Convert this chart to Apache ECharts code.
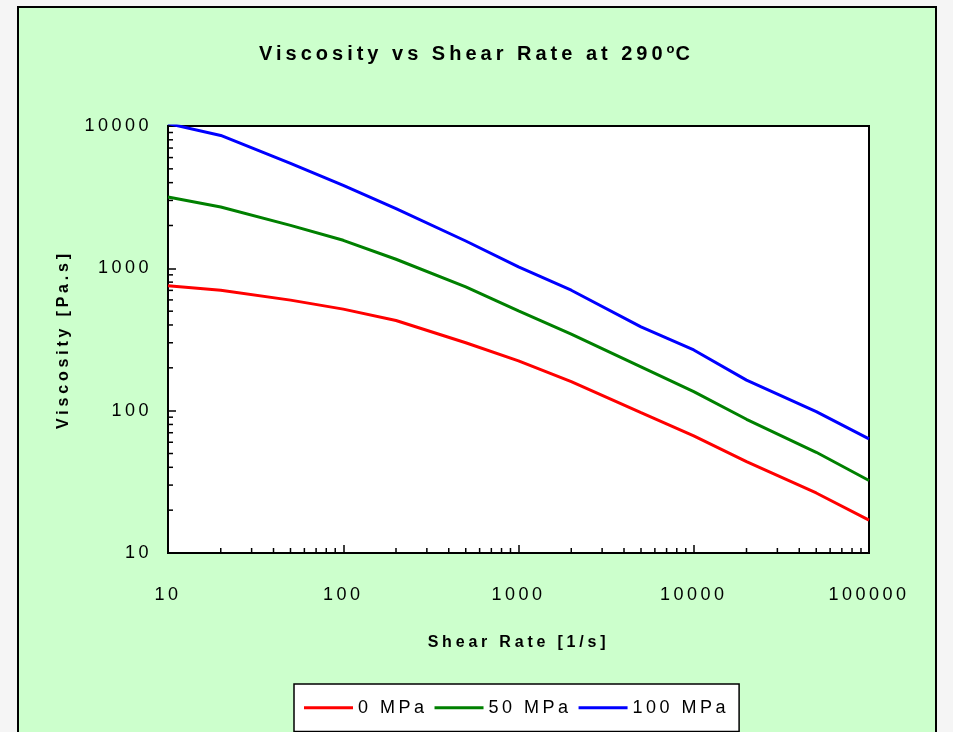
<!DOCTYPE html>
<html><head><meta charset="utf-8">
<script src="https://cdn.jsdelivr.net/npm/echarts@6/dist/echarts.min.js"></script>
<style>
html,body{margin:0;padding:0;background:#f5f5f5;overflow:hidden;}
#panel{position:absolute;left:17px;top:6px;width:916px;height:760px;background:#ccffcc;border:2px solid #000;}
#c{position:absolute;left:0;top:0;width:953px;height:732px;}
</style>
</head><body><div id="panel"></div><div id="c"></div>
<script>
// Spaced-out lettering like the original (weight+size -> letter spacing in px)
(function(){
  const proto = CanvasRenderingContext2D.prototype;
  const d = Object.getOwnPropertyDescriptor(proto,'font');
  if (!d || !('letterSpacing' in proto)) return;
  const LS = {'b20':4,'b16':3.8,'18':3.5,'b13':1};
  Object.defineProperty(proto,'font',{configurable:true,enumerable:d.enumerable,
    get(){return d.get.call(this);},
    set(v){d.set.call(this,v);const m=/(\d+(?:\.\d+)?)px/.exec(v);
      const key=(/bold|[6-9]00/.test(v)?'b':'')+(m?m[1]:'');const s=LS[key];this.letterSpacing=(s||0)+'px';}
  });
})();

const shearRate = [10,20,50,100,200,500,1000,2000,5000,10000,20000,50000,100000];
const visc0   = [753,702,598,517,430,300,224,160,97,66.5,43.9,26.4,17.0];
const visc50  = [3170,2700,2005,1574,1158,741,503,345,203,136,87,51,32.3];
const visc100 = [10400,8580,5460,3825,2625,1556,1023,702,388,267,164,98.4,63.3];
const seriesNames = ['0 MPa','50 MPa','100 MPa'];
const seriesColors = ['#ff0000','#008000','#0000ff'];
const xMin = 10, xMax = 100000, yMin = 10, yMax = 10000;

function minorVals(lo, hi){const out=[];for(let d=lo;d<hi;d*=10)for(let k=2;k<=9;k++)out.push(d*k);return out;}
const xMinor = minorVals(xMin,xMax).map(v=>[v,yMin]);
const yMinor = minorVals(yMin,yMax).map(v=>[xMin,v]);

const FONT = 'Liberation Sans, Arial, sans-serif';
const chart = echarts.init(document.getElementById('c'), null, {renderer:'canvas'});
const lineSeries = [visc0,visc50,visc100].map((vals,i)=>({
  name: seriesNames[i], type:'line', showSymbol:false, symbol:'none', clip:true,
  lineStyle:{color:seriesColors[i], width:3}, itemStyle:{color:seriesColors[i]},
  data: shearRate.map((x,j)=>[x, vals[j]]), z:3
}));
chart.setOption({
  animation:false,
  backgroundColor:'transparent',
  title:{
    text:'Viscosity vs Shear Rate at 290{sup|o}C',
    left:'center', top:42, padding:0,
    textStyle:{fontFamily:FONT,fontSize:20,fontWeight:'bold',color:'#000',
      rich:{sup:{fontFamily:FONT,fontSize:13,fontWeight:'bold',color:'#000',verticalAlign:'top',padding:[0,0,8,0]}}}
  },
  grid:{left:168,top:126,right:84,bottom:179,show:true,backgroundColor:'#fff',borderColor:'#000',borderWidth:2},
  legend:{
    data:seriesNames, left:294, top:684, orient:'horizontal',
    padding:[13,10,13,10], itemGap:7, itemWidth:49, itemHeight:3, icon:'rect',
    backgroundColor:'#fff', borderColor:'#000', borderWidth:1.5, borderRadius:0,
    textStyle:{fontFamily:FONT,fontSize:18,color:'#000'}
  },
  xAxis:{
    type:'log', logBase:10, min:xMin, max:xMax,
    name:'Shear Rate [1/s]', nameLocation:'middle', nameGap:80,
    nameTextStyle:{fontFamily:FONT,fontSize:16,fontWeight:'bold',color:'#000'},
    axisLine:{show:true,lineStyle:{color:'#000',width:2}},
    axisTick:{show:true,inside:true,length:8,lineStyle:{color:'#000',width:1.5}},
    axisLabel:{fontFamily:FONT,fontSize:18,color:'#000',margin:31,formatter:v=>String(Math.round(v))},
    splitLine:{show:false}, minorTick:{show:false}
  },
  yAxis:{
    type:'log', logBase:10, min:yMin, max:yMax,
    name:'Viscosity [Pa.s]', nameLocation:'middle', nameGap:90, nameRotate:90,
    nameTextStyle:{fontFamily:FONT,fontSize:16,fontWeight:'bold',color:'#000'},
    axisLine:{show:true,lineStyle:{color:'#000',width:2}},
    axisTick:{show:true,inside:true,length:8,lineStyle:{color:'#000',width:1.5}},
    axisLabel:{fontFamily:FONT,fontSize:18,color:'#000',margin:16,formatter:v=>String(Math.round(v))},
    splitLine:{show:false}, minorTick:{show:false}
  },
  series:[
    {type:'custom', silent:true, z:2, data:xMinor, clip:false,
     renderItem:(params,api)=>{const p=api.coord([api.value(0),api.value(1)]);
       return {type:'line',shape:{x1:p[0],y1:p[1],x2:p[0],y2:p[1]-5},style:{stroke:'#000',lineWidth:1.5}};}},
    {type:'custom', silent:true, z:2, data:yMinor, clip:false,
     renderItem:(params,api)=>{const p=api.coord([api.value(0),api.value(1)]);
       return {type:'line',shape:{x1:p[0],y1:p[1],x2:p[0]+5,y2:p[1]},style:{stroke:'#000',lineWidth:1.5}};}},
    ...lineSeries
  ]
});
</script>
</body></html>
